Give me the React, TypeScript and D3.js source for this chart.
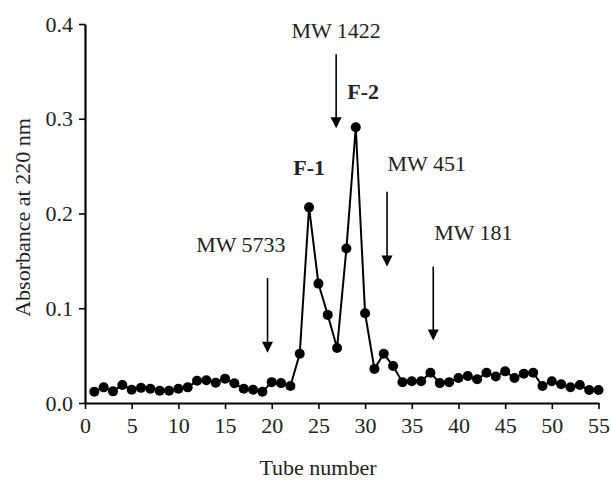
import { useEffect, useRef } from 'react';
import * as d3 from 'd3';

const tubes = d3.range(1, 56);
const absorbance = [
  0.012, 0.0165, 0.0123, 0.019, 0.014, 0.016, 0.015, 0.013, 0.013, 0.015,
  0.0165, 0.0235, 0.024, 0.0215, 0.0257, 0.0208, 0.015, 0.014, 0.0118, 0.022,
  0.021, 0.018, 0.052, 0.2065, 0.126, 0.093, 0.058, 0.163, 0.291, 0.0947,
  0.036, 0.052, 0.039, 0.022, 0.023, 0.023, 0.032, 0.021, 0.022, 0.0264,
  0.0285, 0.025, 0.032, 0.028, 0.0334, 0.0264, 0.031, 0.032, 0.018, 0.023,
  0.0197, 0.0166, 0.019, 0.0137, 0.0137
];
const xTicks = [0, 5, 10, 15, 20, 25, 30, 35, 40, 45, 50, 55];
const yTicks = [0, 0.1, 0.2, 0.3, 0.4];

// marker labels with their arrows (tube, label baseline, arrow top, arrow tip)
const markers = [
  { label: 'MW 5733', lx: 16.7, ly: 0.159, ax: 19.55, top: 0.132, tip: 0.053 },
  { label: 'MW 1422', lx: 26.9, ly: 0.385, ax: 26.9, top: 0.368, tip: 0.29 },
  { label: 'MW 451', lx: 36.6, ly: 0.245, ax: 32.35, top: 0.223, tip: 0.144 },
  { label: 'MW 181', lx: 41.6, ly: 0.172, ax: 37.3, top: 0.144, tip: 0.066 }
];
const peaks = [
  { label: 'F-1', x: 24.0, y: 0.2406 },
  { label: 'F-2', x: 29.8, y: 0.321 }
];

const App = () => {
  const svgRef = useRef<SVGSVGElement>(null);

  useEffect(() => {
    const width = 611;
    const height = 483;
    const svg = d3.select(svgRef.current);
    svg.selectAll('*').remove();

    const font = '"Liberation Serif", serif';
    const fs = '22px';
    const x = d3.scaleLinear().domain([0, 55]).range([85, 598.5]);
    const y = d3.scaleLinear().domain([0, 0.4]).range([403, 24]);

    svg.attr('width', width).attr('height', height);

    // axes
    const xAxis = svg.append('g')
      .attr('transform', `translate(0,${y(0)})`)
      .call(d3.axisBottom(x).tickValues(xTicks).tickSize(6).tickSizeOuter(0).tickPadding(8).tickFormat(d3.format('d')));
    const yAxis = svg.append('g')
      .attr('transform', `translate(${x(0)},0)`)
      .call(d3.axisLeft(y).tickValues(yTicks).tickSize(6).tickSizeOuter(0).tickPadding(6).tickFormat(d3.format('.1f')));

    [xAxis, yAxis].forEach(ax => {
      ax.select('.domain').attr('stroke', '#000').attr('stroke-width', 2.2);
      ax.selectAll('.tick line').attr('stroke', '#000').attr('stroke-width', 1.6);
      ax.selectAll('.tick text')
        .attr('fill', '#222')
        .style('font-family', font)
        .style('font-size', fs);
    });

    svg.append('text')
      .attr('x', 318)
      .attr('y', 475)
      .attr('text-anchor', 'middle')
      .style('font-family', font)
      .style('font-size', fs)
      .attr('fill', '#222')
      .text('Tube number');

    svg.append('text')
      .attr('transform', `translate(30,${(y(0) + y(0.4)) / 2 + 4}) rotate(-90)`)
      .attr('text-anchor', 'middle')
      .style('font-family', font)
      .style('font-size', fs)
      .attr('fill', '#222')
      .text('Absorbance at 220 nm');

    // series
    const pts = tubes.map((t, i) => [t, absorbance[i]] as [number, number]);
    svg.append('path')
      .datum(pts)
      .attr('d', d3.line<[number, number]>().x(d => x(d[0])).y(d => y(d[1])))
      .attr('fill', 'none')
      .attr('stroke', '#000')
      .attr('stroke-width', 2);

    svg.selectAll('circle.pt')
      .data(pts)
      .enter()
      .append('circle')
      .attr('class', 'pt')
      .attr('cx', d => x(d[0]))
      .attr('cy', d => y(d[1]))
      .attr('r', 5)
      .attr('fill', '#000');

    // annotations
    markers.forEach(m => {
      svg.append('text')
        .attr('x', x(m.lx))
        .attr('y', y(m.ly))
        .attr('text-anchor', 'middle')
        .style('font-family', font)
        .style('font-size', fs)
        .attr('fill', '#222')
        .text(m.label);

      const ax = x(m.ax);
      const tipY = y(m.tip);
      svg.append('line')
        .attr('x1', ax).attr('x2', ax)
        .attr('y1', y(m.top)).attr('y2', tipY - 8)
        .attr('stroke', '#000')
        .attr('stroke-width', 1.6);
      svg.append('path')
        .attr('d', `M${ax - 5.5},${tipY - 11}L${ax + 5.5},${tipY - 11}L${ax},${tipY}Z`)
        .attr('fill', '#000');
    });

    peaks.forEach(p => {
      svg.append('text')
        .attr('x', x(p.x))
        .attr('y', y(p.y))
        .attr('text-anchor', 'middle')
        .style('font-family', font)
        .style('font-size', fs)
        .style('font-weight', 'bold')
        .attr('fill', '#222')
        .text(p.label);
    });
  }, []);

  return <svg ref={svgRef} style={{ position: 'absolute', left: 0, top: 0, background: '#fff' }} />;
};

export default App;
